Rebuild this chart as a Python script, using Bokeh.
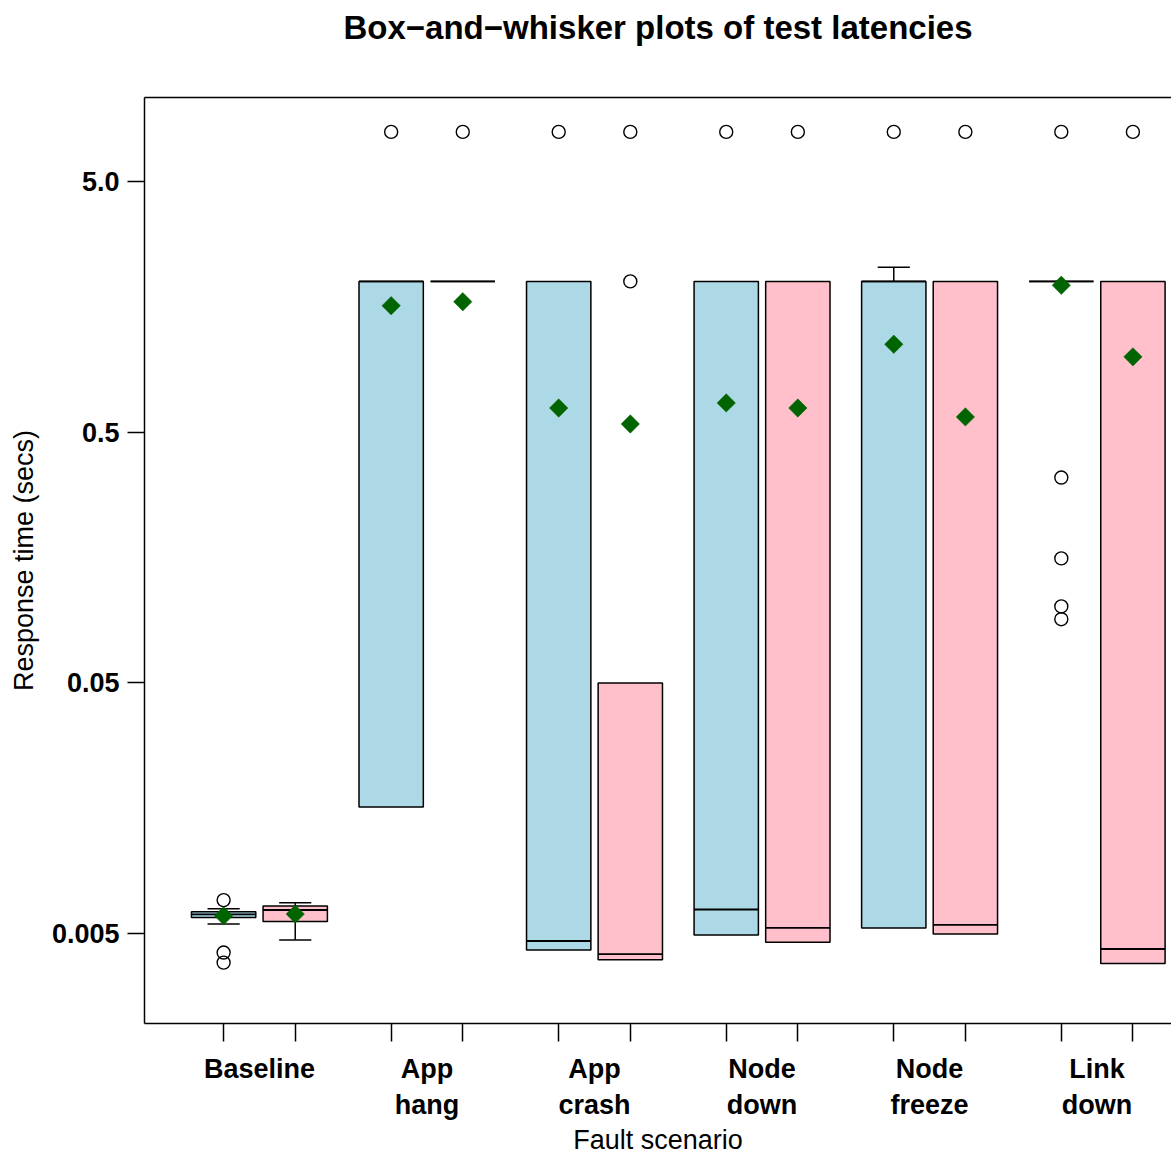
import math
from bokeh.plotting import figure
from bokeh.models import Range1d, FixedTicker, LinearAxis, ColumnDataSource
from bokeh.embed import file_html
from bokeh.resources import INLINE

# ---- data ----
title_text = "Box\u2212and\u2212whisker plots of test latencies"
groups = ["Baseline", "App\nhang", "App\ncrash", "Node\ndown", "Node\nfreeze", "Link\ndown"]
y_ticks = [0.005, 0.05, 0.5, 5.0]
y_tick_labels = ["0.005", "0.05", "0.5", "5.0"]

# series 1 (light blue boxes)
q1_a = [0.00580, 0.0160, 0.00430, 0.00494, 0.00526, 2.0]
med_a = [0.00597, 2.0, 0.00467, 0.00624, 2.0, 2.0]
q3_a = [0.00611, 2.0, 2.0, 2.0, 2.0, 2.0]
lo_a = [0.00546, 0.0160, 0.00430, 0.00494, 0.00526, 2.0]
hi_a = [0.00628, 2.0, 2.0, 2.0, 2.28, 2.0]
mean_a = [0.00589, 1.60, 0.625, 0.655, 1.123, 1.93]
out_a = [[0.0068, 0.0042, 0.00383], [7.9], [7.9], [7.9], [7.9], [7.9, 0.330, 0.157, 0.101, 0.0898]]

# series 2 (pink boxes)
q1_b = [0.00559, 2.0, 0.00393, 0.00462, 0.00498, 0.00380]
med_b = [0.00621, 2.0, 0.00414, 0.00527, 0.00542, 0.00434]
q3_b = [0.00644, 2.0, 0.05, 2.0, 2.0, 2.0]
lo_b = [0.00471, 2.0, 0.00393, 0.00462, 0.00498, 0.00380]
hi_b = [0.00664, 2.0, 0.05, 2.0, 2.0, 2.0]
mean_b = [0.00598, 1.66, 0.540, 0.625, 0.576, 1.00]
out_b = [[], [7.9], [7.9, 2.0], [7.9], [7.9], [7.9]]

# ---- layout constants ----
OFFSET = 0.2137
BOX_W = 0.384
CAP_W = BOX_W / 2
FONT = "Liberation Sans"
LW = 1.5

p = figure(width=1171, height=1157, y_axis_type="log", title=None,
           x_range=Range1d(0.314, 6.444), y_range=Range1d(0.002189, 10.835),
           output_backend="svg", toolbar_location=None,
           min_border_left=144, min_border_right=0, min_border_top=97,
           min_border_bottom=134)
p.outline_line_color = None
p.grid.visible = False
p.background_fill_color = "white"
p.border_fill_color = "white"


def draw_series(sign, q1, med, q3, lo, hi, mean, outs, color):
    xs = [i + 1 + sign * OFFSET for i in range(len(groups))]
    src = ColumnDataSource(dict(
        x=xs, left=[x - BOX_W / 2 for x in xs], right=[x + BOX_W / 2 for x in xs],
        q1=q1, q3=q3, med=med, mean=mean))
    # whiskers
    wx, wy0, wy1, cx0, cx1, cy = [], [], [], [], [], []
    for x, a, b, l, h in zip(xs, q1, q3, lo, hi):
        if h > b:
            wx.append(x); wy0.append(b); wy1.append(h)
            cx0.append(x - CAP_W / 2); cx1.append(x + CAP_W / 2); cy.append(h)
        if l < a:
            wx.append(x); wy0.append(a); wy1.append(l)
            cx0.append(x - CAP_W / 2); cx1.append(x + CAP_W / 2); cy.append(l)
    p.segment(x0=wx, y0=wy0, x1=wx, y1=wy1, line_color="black", line_width=LW)
    p.segment(x0=cx0, y0=cy, x1=cx1, y1=cy, line_color="black", line_width=LW)
    p.quad(left="left", right="right", bottom="q1", top="q3", source=src,
           fill_color=color, line_color="black", line_width=LW)
    p.segment(x0="left", y0="med", x1="right", y1="med", source=src,
              line_color="black", line_width=LW + 0.3)
    ox, oy = [], []
    for x, o in zip(xs, outs):
        for v in o:
            ox.append(x); oy.append(v)
    p.scatter(ox, oy, marker="circle", size=13, fill_color=None,
              line_color="black", line_width=1.4)
    p.scatter(x="x", y="mean", source=src, marker="square", size=13,
              angle=math.pi / 4, fill_color="#006400", line_color="#006400",
              line_width=0.5)
    return xs


xs_a = draw_series(-1, q1_a, med_a, q3_a, lo_a, hi_a, mean_a, out_a, "#ADD8E6")
xs_b = draw_series(1, q1_b, med_b, q3_b, lo_b, hi_b, mean_b, out_b, "#FFC0CB")

# ---- y axis ----
yax = p.yaxis[0]
yax.ticker = FixedTicker(ticks=y_ticks)
yax.major_label_overrides = {t: s for t, s in zip(y_ticks, y_tick_labels)}
yax.major_tick_out = 17
yax.major_tick_in = 0
yax.minor_tick_line_color = None
yax.major_tick_line_width = LW
yax.major_tick_line_color = "black"
yax.axis_line_width = LW
yax.axis_line_color = "black"
yax.major_label_text_font = FONT
yax.major_label_text_font_size = "27px"
yax.major_label_text_font_style = "bold"
yax.major_label_text_color = "black"
yax.major_label_standoff = 8
yax.axis_label = "Response time (secs)"
yax.axis_label_text_font = FONT
yax.axis_label_text_font_size = "27px"
yax.axis_label_text_font_style = "normal"
yax.axis_label_text_color = "black"
yax.axis_label_standoff = 10

# ---- x axis ----
centers = [i + 1 for i in range(len(groups))]
xax = p.xaxis[0]
xax.ticker = FixedTicker(ticks=centers, minor_ticks=sorted(xs_a + xs_b))
xax.major_label_overrides = {c: g for c, g in zip(centers, groups)}
xax.major_tick_line_color = None
xax.major_tick_out = 18
xax.major_tick_in = 0
xax.minor_tick_out = 18
xax.minor_tick_in = 0
xax.minor_tick_line_color = "black"
xax.minor_tick_line_width = LW
xax.axis_line_width = LW
xax.axis_line_color = "black"
xax.major_label_text_font = FONT
xax.major_label_text_font_size = "27px"
xax.major_label_text_font_style = "bold"
xax.major_label_text_color = "black"
xax.major_label_standoff = 12
xax.axis_label = "Fault scenario"
xax.axis_label_text_font = FONT
xax.axis_label_text_font_size = "27px"
xax.axis_label_text_font_style = "normal"
xax.axis_label_text_color = "black"
xax.axis_label_standoff = 2

# top frame line, carrying the chart title as its label
top = LinearAxis(ticker=FixedTicker(ticks=[]), axis_line_width=LW,
                 axis_line_color="black",
                 major_tick_line_color=None, minor_tick_line_color=None,
                 major_tick_out=0, major_tick_in=0, minor_tick_out=0,
                 major_label_standoff=0,
                 major_label_text_font_size="0px",
                 axis_label=title_text, axis_label_text_font=FONT,
                 axis_label_text_font_size="33px",
                 axis_label_text_font_style="bold",
                 axis_label_text_color="black",
                 axis_label_standoff=52)
p.add_layout(top, "above")

open("out.html", "w").write(file_html(p, INLINE))
